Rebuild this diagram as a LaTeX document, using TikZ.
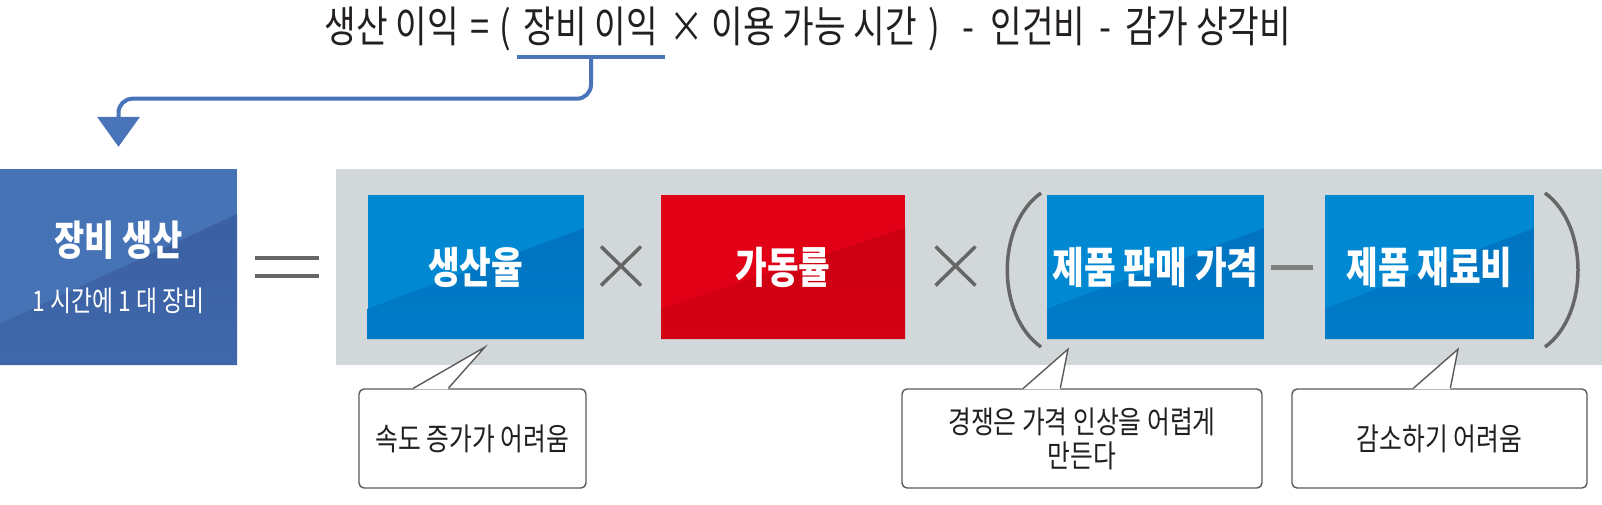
\documentclass[tikz,border=0pt]{standalone}
\usepackage{fontspec}
\setmainfont{Noto Sans CJK KR}[FakeStretch=0.8]
\usetikzlibrary{arrows.meta,calc}
\definecolor{ink}{HTML}{231F20}
\definecolor{linkblue}{HTML}{4A74B9}
\definecolor{equip}{HTML}{4673B6}
\definecolor{equipdark}{HTML}{3A5EA0}
\definecolor{blue}{HTML}{0089D2}
\definecolor{bluedark}{HTML}{0071BF}
\definecolor{red}{HTML}{E10016}
\definecolor{reddark}{HTML}{CA0012}
\definecolor{panel}{HTML}{D2D7DA}
\definecolor{opgray}{HTML}{666666}
\definecolor{minusgray}{HTML}{808080}
\definecolor{notegray}{HTML}{5A5A5A}
\begin{document}
\begin{tikzpicture}[x=1pt,y=-1pt,
  toptext/.style={inner sep=0pt,text=ink,font=\fontsize{43}{48}\selectfont},
  box/.style={fill=#1,inner sep=0pt,minimum height=144pt,text=white,
    font=\bfseries\fontsize{43}{48}\selectfont,
    path picture={\shade[top color=#1dark,bottom color=#1dark!55!#1]
      (path picture bounding box.south west)
      -- ($(path picture bounding box.south west)!0.21!(path picture bounding box.north west)$)
      -- ($(path picture bounding box.south east)!0.77!(path picture bounding box.north east)$)
      -- (path picture bounding box.south east) -- cycle;}},
  op/.style={opgray,line width=3.5pt},
  link/.style={linkblue,line width=4pt},
  note/.style={draw=notegray,line width=1.4pt,rounded corners=5pt,fill=white,
    minimum height=99pt,text=ink,align=center,font=\fontsize{31}{34}\selectfont}]
\useasboundingbox (0,0) rectangle (1602,504);

\fill[panel] (336,169) rectangle (1602,365);

\node[toptext,minimum width=148pt,minimum height=61pt] (eqmid) at (591,26.5) {장비 이익};
\node[toptext,anchor=base east] (eqleft) at ([xshift=-5pt]eqmid.base west) {생산 이익\hspace{12pt}=\hspace{10pt}(};
\node[toptext,anchor=base west] (eqright) at ([xshift=4pt]eqmid.base east)
  {× 이용 가능 시간\hspace{12pt})\hspace{22pt}-\hspace{16pt}인건비\hspace{14pt}-\hspace{14pt}감가 상각비};

\node[box=equip,minimum width=237pt,minimum height=196pt,align=center] (equip) at (118.5,267)
  {{\fontsize{41}{44}\selectfont 장비 생산}\\[8pt]{\mdseries\fontsize{28.5}{31}\selectfont 1 시간에 1 대 장비}};

\draw[link] (eqmid.south west) -- (eqmid.south east);
\draw[link,rounded corners=14pt,shorten >=22pt,-{Triangle[width=42pt,length=30pt]}]
  (eqmid.south) -- ++(0,41.5) -| (equip.north);

\draw[op,line width=4pt] (255,258) -- (319,258) (255,276) -- (319,276);

\node[box=blue,minimum width=216.5pt] (rate) at (475.75,267) {생산율};
\node[box=red,minimum width=244pt] (avail) at (783,267) {가동률};
\node[box=blue,minimum width=217pt] (price) at (1155.5,267) {제품 판매 가격};
\node[box=blue,minimum width=209pt] (material) at (1429.5,267) {제품 재료비};

\foreach \x in {621,955.5}{
  \draw[op] (\x-20,246.5) -- (\x+20,285.5) (\x-20,285.5) -- (\x+20,246.5);
}
\draw[op] (1041,193) .. controls (996,225) and (996,315) .. (1041,347);
\draw[op] (1545,193) .. controls (1589,225) and (1589,315) .. (1545,347);
\draw[minusgray,line width=5pt] ([xshift=7pt]price.east) -- ([xshift=-12pt]material.west);

\node[note,minimum width=227pt] (n1) at (472.5,438.5) {속도 증가가 어려움};
\node[note,minimum width=360pt] (n2) at (1082,438.5) {경쟁은 가격 인상을 어렵게\\만든다};
\node[note,minimum width=295pt] (n3) at (1439.5,438.5) {감소하기 어려움};

\foreach \n/\t/\dx/\dy/\a/\b in {n1/rate/9/8/55/90,n2/price/-87.5/10/122/159,n3/material/28.5/10/122/159}{
  \fill[white] ([xshift=\a pt,yshift=-1pt]\n.north west) -- ($(\t.south)+(\dx,\dy)$)
    -- ([xshift=\b pt,yshift=-1pt]\n.north west) -- cycle;
  \draw[notegray,line width=1.4pt] ([xshift=\a pt]\n.north west) -- ($(\t.south)+(\dx,\dy)$)
    -- ([xshift=\b pt]\n.north west);
}
\end{tikzpicture}
\end{document}
